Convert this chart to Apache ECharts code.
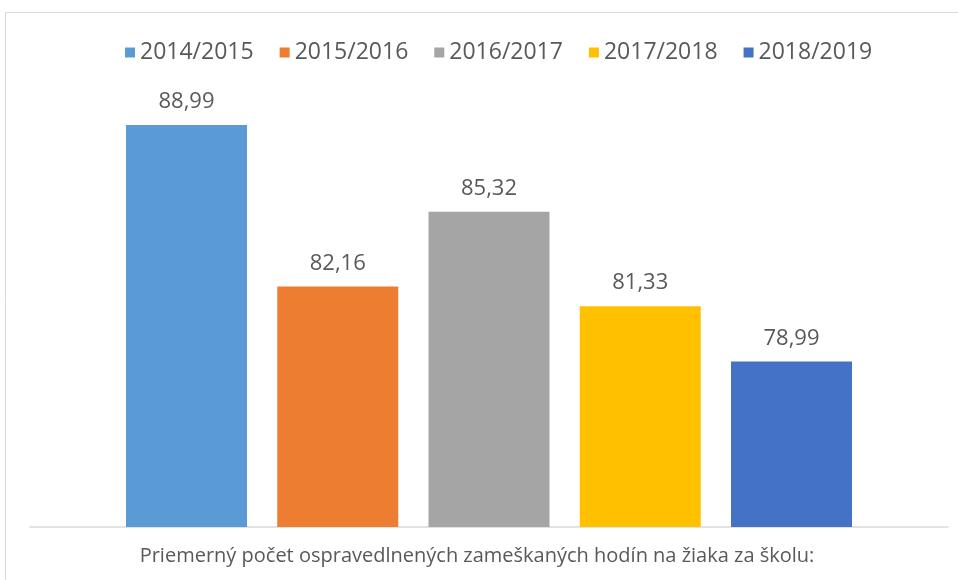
<!DOCTYPE html>
<html>
<head>
<meta charset="utf-8">
<title>Zameškané hodiny</title>
<script src="https://cdn.jsdelivr.net/npm/echarts@6/dist/echarts.min.js"></script>
<style>
  html, body { margin: 0; padding: 0; background: #fff; }
  #main { width: 958px; height: 580px; }
</style>
</head>
<body>
<div id="main"></div>
<script>
// data
var category = ['Priemerný počet ospravedlnených zameškaných hodín na žiaka za školu:'];
var years = ['2014/2015', '2015/2016', '2016/2017', '2017/2018', '2018/2019'];
var values = [88.99, 82.16, 85.32, 81.33, 78.99];
var colors = ['#5B9BD5', '#ED7D31', '#A5A5A5', '#FFC000', '#4472C4'];

var font = 'Open Sans';
var txt = '#595959';

var series = years.map(function (y, i) {
  return {
    name: y,
    type: 'bar',
    data: [values[i]],
    barWidth: 121,
    barGap: '25%',
    itemStyle: { color: colors[i] },
    label: {
      show: true,
      position: 'top',
      distance: 12,
      color: txt,
      fontFamily: font,
      fontSize: 22,
      formatter: function (p) { return p.value.toFixed(2).replace('.', ','); }
    }
  };
});

var chart = echarts.init(document.getElementById('main'));
chart.setOption({
  backgroundColor: '#fff',
  animation: false,
  color: colors,
  graphic: [{
    type: 'rect',
    shape: { x: 5.5, y: 12.5, width: 1000, height: 600 },
    style: { fill: 'none', stroke: '#D9D9D9', lineWidth: 1 },
    silent: true
  }],
  legend: {
    top: 36,
    left: 120,
    itemWidth: 10,
    itemHeight: 10,
    itemGap: 26,
    icon: 'rect',
    textStyle: { color: txt, fontFamily: font, fontSize: 23 },
    data: years
  },
  grid: { left: 30, right: 10, top: 101, bottom: 53 },
  xAxis: {
    type: 'category',
    data: category,
    axisLine: { lineStyle: { color: '#D9D9D9', width: 1.5 } },
    axisTick: { show: false },
    axisLabel: { color: txt, fontFamily: font, fontSize: 20, margin: 19, padding: [0, 24, 0, 0] }
  },
  yAxis: {
    type: 'value',
    min: 72,
    max: 90,
    show: false,
    splitLine: { show: false }
  },
  series: series
});
</script>
</body>
</html>
